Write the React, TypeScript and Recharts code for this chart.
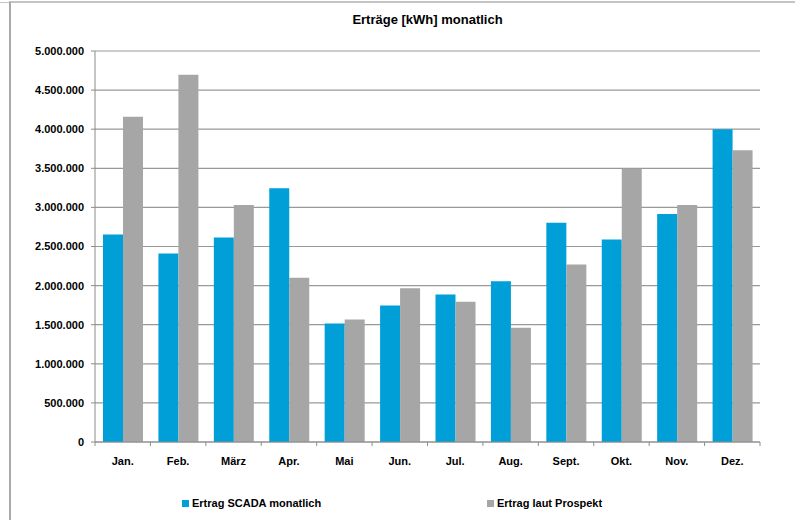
import React from 'react';
import {
  BarChart,
  Bar,
  XAxis,
  YAxis,
  CartesianGrid,
  Legend,
} from 'recharts';

// Monatliche Erträge in kWh
const months = ['Jan.', 'Feb.', 'März', 'Apr.', 'Mai', 'Jun.', 'Jul.', 'Aug.', 'Sept.', 'Okt.', 'Nov.', 'Dez.'];
const scadaValues = [2655000, 2410000, 2615000, 3245000, 1515000, 1745000, 1885000, 2055000, 2805000, 2590000, 2915000, 4000000];
const prospektValues = [4160000, 4695000, 3030000, 2100000, 1565000, 1965000, 1795000, 1460000, 2270000, 3495000, 3030000, 3730000];
const yTicks = [0, 500000, 1000000, 1500000, 2000000, 2500000, 3000000, 3500000, 4000000, 4500000, 5000000];

const BLUE = '#009fd7';
const GREY = '#a6a6a6';
const FONT = '"Liberation Sans", Arial, sans-serif';

const chartData = months.map((m, i) => ({
  name: m,
  scada: scadaValues[i],
  prospekt: prospektValues[i],
}));

// 5000000 -> "5.000.000"
const formatDe = (v: number) => String(v).replace(/\B(?=(\d{3})+(?!\d))/g, '.');

const CHART_W = 795;
const CHART_H = 520;
const MARGIN = { top: 51, right: 35, bottom: 48, left: 0 };
const Y_AXIS_W = 95;
const BAND = (CHART_W - MARGIN.left - MARGIN.right - Y_AXIS_W) / months.length;

const MonthTick = (props: any) => {
  const { x, y, payload, index } = props;
  const isLast = index === months.length - 1;
  return (
    <g>
      <line x1={x - BAND / 2} y1={y} x2={x - BAND / 2} y2={y + 4} stroke="#8c8c8c" />
      {isLast && <line x1={x + BAND / 2} y1={y} x2={x + BAND / 2} y2={y + 4} stroke="#8c8c8c" />}
      <text
        x={x}
        y={y + 23}
        textAnchor="middle"
        fontFamily={FONT}
        fontWeight="bold"
        fontSize={11}
        fill="#000"
      >
        {payload.value}
      </text>
    </g>
  );
};

const legendItems = [
  { label: 'Ertrag SCADA monatlich', color: BLUE, left: 182 },
  { label: 'Ertrag laut Prospekt', color: GREY, left: 487 },
];

const LegendContent = () => (
  <div style={{ position: 'relative', width: CHART_W, height: 16 }}>
    {legendItems.map((item) => (
      <div
        key={item.label}
        style={{
          position: 'absolute',
          left: item.left,
          top: 0,
          display: 'flex',
          alignItems: 'center',
          fontFamily: FONT,
          fontWeight: 'bold',
          fontSize: 11,
          lineHeight: '16px',
          color: '#000',
          whiteSpace: 'nowrap',
        }}
      >
        <span style={{ display: 'inline-block', width: 7, height: 7, background: item.color, marginRight: 3 }} />
        {item.label}
      </div>
    ))}
  </div>
);

export default function App() {
  return (
    <div style={{ position: 'absolute', left: 0, top: 0, width: CHART_W, height: CHART_H, background: '#fff', overflow: 'hidden' }}>
      {/* Rahmen */}
      <div style={{ position: 'absolute', left: 9, top: 1, width: CHART_W, height: CHART_H, borderLeft: '2px solid #a9a9a9', borderTop: '2px solid #c4c4c4' }} />
      <div style={{ position: 'absolute', left: 0, top: 2, width: 9, height: 1, background: '#c4c4c4' }} />
      <div
        style={{
          position: 'absolute',
          left: Y_AXIS_W,
          width: CHART_W - MARGIN.right - Y_AXIS_W,
          top: 12,
          textAlign: 'center',
          fontFamily: FONT,
          fontWeight: 'bold',
          fontSize: 13,
          lineHeight: '16px',
          color: '#000',
        }}
      >
        Erträge [kWh] monatlich
      </div>
      <BarChart width={CHART_W} height={CHART_H} data={chartData} margin={MARGIN} barGap={0} barSize={20}>
        <CartesianGrid vertical={false} stroke="#999" strokeWidth={1.2} />
        <XAxis
          dataKey="name"
          height={30}
          axisLine={{ stroke: '#8c8c8c' }}
          tickLine={false}
          tickSize={0}
          tickMargin={0}
          interval={0}
          tick={<MonthTick />}
        />
        <YAxis
          width={Y_AXIS_W}
          domain={[0, 5000000]}
          ticks={yTicks}
          interval={0}
          tickFormatter={formatDe}
          axisLine={{ stroke: '#8c8c8c' }}
          tickLine={{ stroke: '#8c8c8c' }}
          tickSize={4}
          tickMargin={7}
          tick={{ fontFamily: FONT, fontWeight: 'bold', fontSize: 11, fill: '#000' }}
        />
        <Legend
          layout="horizontal"
          verticalAlign="middle"
          align="center"
          content={<LegendContent />}
          wrapperStyle={{ position: 'absolute', top: 495, left: 0, width: CHART_W }}
        />
        <Bar dataKey="scada" name="Ertrag SCADA monatlich" fill={BLUE} isAnimationActive={false} />
        <Bar dataKey="prospekt" name="Ertrag laut Prospekt" fill={GREY} isAnimationActive={false} />
      </BarChart>
    </div>
  );
}
